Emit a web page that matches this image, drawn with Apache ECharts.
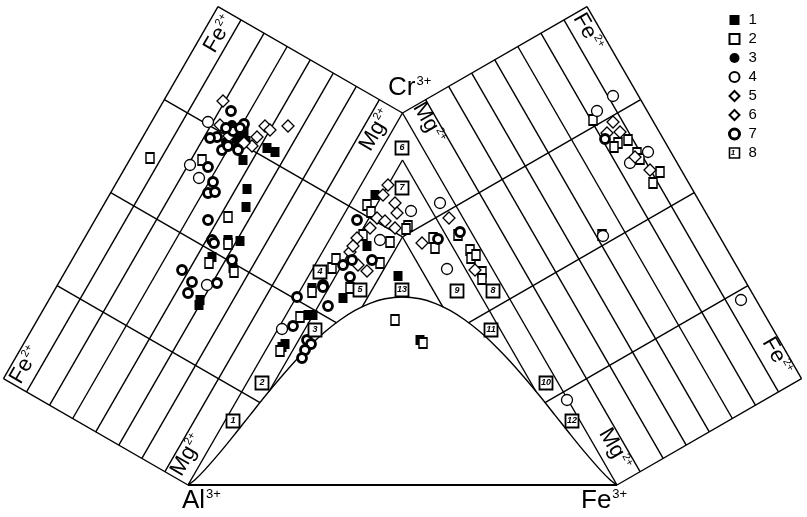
<!DOCTYPE html>
<html><head><meta charset="utf-8">
<script src="https://cdn.jsdelivr.net/npm/echarts@6/dist/echarts.min.js"></script>
<style>html,body{margin:0;padding:0;background:#fff}#c{width:807px;height:517px}</style>
</head><body><div id="c"></div>
<script>
// ---- diagram plane (units = plane coordinates, y downward) ----
const AL = [188, 485], CR = [402.5, 113], FE = [617, 485];
const FACE_WIDTH = 213;          // width of the unfolded Fe2+/Mg2+ faces
const FACE_DIVISIONS = 8;        // Fe/(Fe+Mg) ratio lines
const CROSS_FRACTIONS = [0.25, 0.5, 0.75];
const INNER_APEX = [402.5, 160];
const LAMBDA_APEX = [402.5, 237];

// boundary curve inside the triangle
const arcX = [188,195,205,220,235,250,265,280,295,310,325,340,355,370,385,402.5,420,435,450,465,480,495,510,525,540,555,570,585,600,610,617];
const arcY = [485,479.7,469.6,452.4,434.0,415.1,396.3,378.3,361.2,345.7,331.8,320.0,310.4,303.3,298.8,297,298.8,303.3,310.4,320.0,331.8,345.7,361.2,378.3,396.3,415.1,434.0,452.4,469.6,479.7,485];

// ---- samples (x, y on the diagram plane) ----
const s1 = [[240,136],[246,141],[267,148],[275,152],[243,160],[247,189],[246,207],[228,240],[240,241],[212,257],[233,268],[200,300],[199,305],[312,288],[343,298],[308,315],[313,315],[282,347],[285,344],[375,195],[367,246],[398,276],[420,340],[230,133],[244,131],[236,138]];
const s2 = [[150,158],[202,160],[228,217],[228,244],[209,263],[234,272],[300,317],[280,351],[350,288],[332,268],[336,259],[367,205],[371,212],[363,235],[390,242],[380,263],[395,320],[408,226],[433,238],[435,248],[458,235],[470,250],[471,258],[476,255],[482,272],[482,279],[593,120],[618,143],[628,140],[614,147],[637,153],[640,159],[660,172],[653,183],[602,235],[423,343],[312,292],[406,229]];
const s3 = [[235,128],[226,142],[238,145],[232,125],[240,146]];
const s4 = [[208,122],[190,165],[199,178],[207,285],[282,329],[613,96],[597,111],[648,152],[630,163],[741,300],[567,400],[411,211],[440,203],[447,269],[380,240],[603,236]];
const s5 = [[223,101],[265,126],[288,126],[257,137],[252,146],[220,125],[229,136],[388,185],[383,195],[395,203],[397,213],[377,218],[395,228],[357,238],[350,252],[358,265],[367,271],[422,243],[449,218],[475,270],[613,122],[607,133],[635,157],[650,170]];
const s6 = [[270,130],[385,221],[353,246],[620,132],[244,143],[370,228]];
const s7 = [[231,111],[244,124],[233,131],[217,137],[210,138],[208,167],[213,182],[208,193],[215,192],[208,220],[212,240],[214,243],[232,260],[182,270],[192,282],[217,283],[188,293],[297,297],[323,285],[328,306],[293,326],[307,340],[311,344],[305,350],[302,358],[357,220],[343,265],[352,260],[372,260],[350,277],[323,287],[605,139],[438,239],[460,232],[222,150],[238,150],[226,128],[240,128],[228,146]];
const fieldNames = ['1','2','3','4','5','6','7','8','9','10','11','12','13'];
const fieldX = [233,262,315,320,360,402,402,493,457,546,491,572,402];
const fieldY = [421,383,330,272,290,148,188,291,291,383,330,421,290];
const legendNames = ['1','2','3','4','5','6','7','8'];

// ---- geometry helpers ----
const add=(a,b)=>[a[0]+b[0],a[1]+b[1]], mul=(a,k)=>[a[0]*k,a[1]*k], sub=(a,b)=>[a[0]-b[0],a[1]-b[1]];
const mir = p => [AL[0]+FE[0]-p[0], p[1]];
function arcAt(x){
  for(let i=0;i<arcX.length-1;i++){ if(x>=arcX[i]&&x<=arcX[i+1]){const t=(x-arcX[i])/(arcX[i+1]-arcX[i]);return arcY[i]+t*(arcY[i+1]-arcY[i]);} }
  return 1e9;
}
function toArc(p,dir){ for(let s=0;s<800;s+=0.25){const q=add(p,mul(dir,s)); if(q[1]>=arcAt(q[0])) return q;} return p; }
const d = sub(CR,AL), L = Math.hypot(d[0],d[1]), u = mul(d,1/L), n = [u[1],-u[0]];
const segs = [];
for(let k=0;k<=FACE_DIVISIONS;k++){const o=mul(n,FACE_WIDTH*k/FACE_DIVISIONS); segs.push([add(AL,o),add(CR,o)]);}
segs.push([AL,add(AL,mul(n,FACE_WIDTH))]); segs.push([CR,add(CR,mul(n,FACE_WIDTH))]);
CROSS_FRACTIONS.forEach(t=>{
  const p = add(AL,mul(d,t)); const outer = add(p,mul(n,FACE_WIDTH)); const into = mul(n,-1);
  let end;
  if(t<0.7) end = toArc(p,into); else { const s=(LAMBDA_APEX[0]-p[0])/into[0]; end = add(p,mul(into,s)); }
  segs.push([outer,end]);
});
segs.push([INNER_APEX, toArc(INNER_APEX, mul(u,-1))]);
segs.push([LAMBDA_APEX, toArc(LAMBDA_APEX, mul(u,-1))]);
const nL = segs.length;
for(let i=0;i<nL;i++) segs.push([mir(segs[i][0]),mir(segs[i][1])]);
const lineData = segs.map(s=>({coords:s}));

function sc(name,data,symbol,size,fill,bw,z){
  return {type:'scatter',name,data,symbol,symbolSize:size,z,silent:true,
    itemStyle:{color:fill,borderColor:'#000',borderWidth:bw,opacity:1}};
}
const ff = 'Liberation Sans, Arial, sans-serif';
function sup(x,y,base,s,fs,rot,align){
  return {type:'text',x,y,rotation:rot||0,z:100,silent:true,style:{
    text:'{b|'+base+'}{s|'+s+'}',align:align||'center',verticalAlign:'middle',
    rich:{b:{fontSize:fs,fontFamily:ff,fill:'#000',lineHeight:fs,verticalAlign:'bottom'},
          s:{fontSize:Math.round(fs*0.5),fontFamily:ff,fill:'#000',lineHeight:fs,verticalAlign:'top',padding:[0,0,0,1]}}}};
}
const R = Math.PI/3;

const option = {
  animation:false,
  backgroundColor:'#fff',
  grid:{left:0,right:0,top:0,bottom:0},
  xAxis:{type:'value',min:0,max:807,show:false},
  yAxis:{type:'value',min:0,max:517,inverse:true,show:false},
  legend:{data:legendNames.map(nm=>nm==='7'?{name:nm,itemStyle:{borderWidth:3}}:(nm==='8'?{name:nm,itemStyle:{borderWidth:1.6}}:nm)),
    orient:'vertical',left:728,top:12.5,padding:0,
    itemWidth:10,itemHeight:10,itemGap:4,selectedMode:false,
    textStyle:{fontSize:15,fontFamily:ff,color:'#000',lineHeight:15,padding:[0,0,0,4]}},
  series:[
    {type:'lines',coordinateSystem:'cartesian2d',polyline:true,data:lineData,silent:true,z:1,
      lineStyle:{color:'#000',width:1.4,opacity:1}},
    {type:'lines',coordinateSystem:'cartesian2d',polyline:true,data:[{coords:[AL,FE]}],silent:true,z:1,
      lineStyle:{color:'#000',width:2.2,opacity:1}},
    {type:'line',data:arcX.map((x,i)=>[x,arcY[i]]),smooth:0.3,symbol:'none',silent:true,z:1,
      lineStyle:{color:'#000',width:1.4}},
    sc('1',s1,'rect',[9,10],'#000',0,5),
    sc('2',s2,'rect',[8,10],'#fff',1.6,5),
    sc('3',s3,'circle',10,'#000',0,5),
    sc('4',s4,'circle',11,'#fff',1.3,5),
    sc('5',s5,'diamond',12,'#fff',1.3,5),
    sc('6',s6,'diamond',12,'#fff',1.3,5),
    sc('7',s7,'circle',9,'#fff',2.8,5),
    {type:'scatter',name:'8',symbol:'rect',symbolSize:13,z:6,silent:true,
      data:fieldNames.map((nm,i)=>({name:nm,value:[fieldX[i],fieldY[i]]})),
      itemStyle:{color:'#fff',borderColor:'#000',borderWidth:1.8,opacity:1},
      label:{show:true,position:'inside',formatter:'{b}',fontSize:9,fontStyle:'italic',fontWeight:'bold',color:'#000',fontFamily:ff}}
  ],
  graphic:[
    sup(388,88,'Cr','3+',26,0,'left'),
    sup(182,501,'Al','3+',26,0,'left'),
    sup(581,501,'Fe','3+',26,0,'left'),
    sup(219,34,'Fe','2+',22,R),
    sup(376,130,'Mg','2+',22,R),
    sup(25,365,'Fe','2+',22,R),
    sup(187,455,'Mg','2+',22,R),
    sup(588,32,'Fe','2+',22,-R),
    sup(429,123,'Mg','2+',22,-R),
    sup(777,356,'Fe','2+',22,-R),
    sup(615,449,'Mg','2+',22,-R),
    {type:'text',x:733,y:153,z:100,silent:true,style:{text:'1',fontSize:8,fontStyle:'italic',fontWeight:'bold',fontFamily:ff,fill:'#000',align:'center',verticalAlign:'middle'}}
  ]
};
const chart = echarts.init(document.getElementById('c'));
chart.setOption(option);
</script></body></html>
